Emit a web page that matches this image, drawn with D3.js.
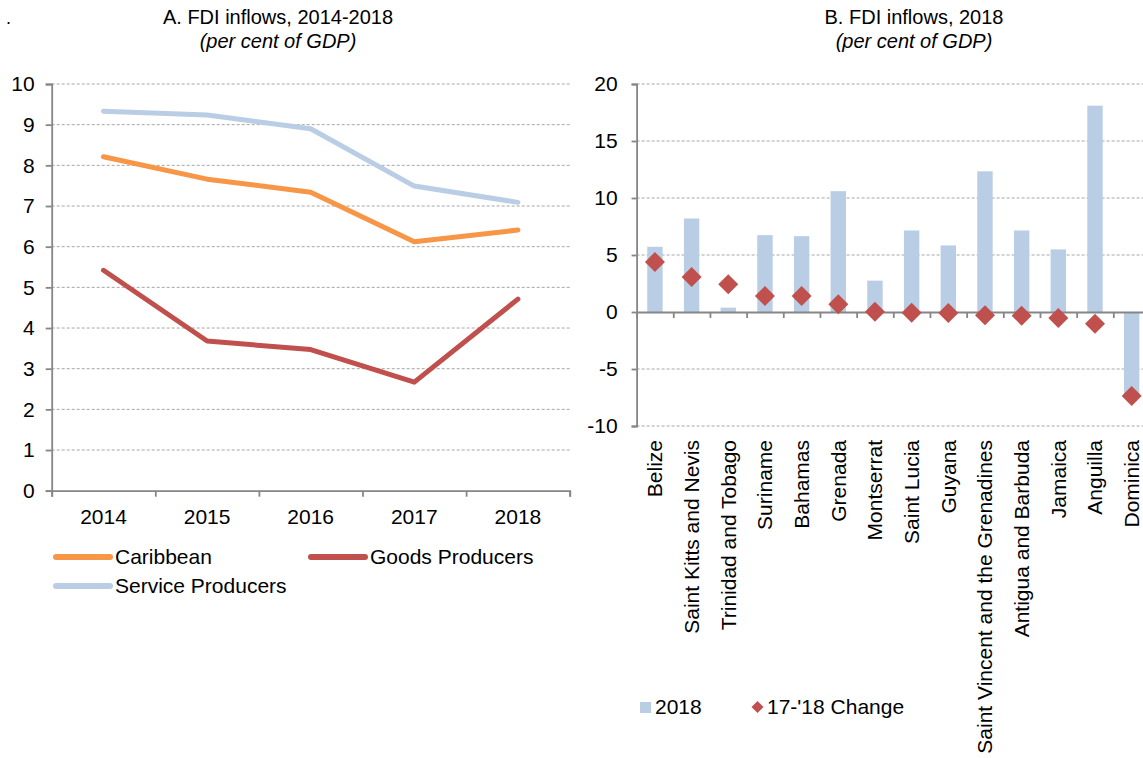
<!DOCTYPE html>
<meta charset="utf-8">
<head>
  <style>
    body {
      margin: 0;
      font-family: Arial, "Liberation Sans", sans-serif;
      background: #fff;
    }
    .grid line { stroke: #a6a6a6; stroke-dasharray: 3,2; stroke-width: 1; }
    .axis path, .axis line { stroke: #868686; stroke-width: 1.8; }
    .title { font-size: 20px; fill: #000; text-anchor: middle; }
    .sub { font-style: italic; }
    .lbl { font-size: 21px; fill: #000; }
  </style>
</head>
<body>
  <div class="chart"></div>
  <script src="https://d3js.org/d3.v7.min.js"></script>
  <script>
    // panel A data
    var years = ["2014", "2015", "2016", "2017", "2018"];
    var caribbean = [8.21, 7.66, 7.34, 6.12, 6.41];
    var goods = [5.42, 3.68, 3.47, 2.67, 4.71];
    var services = [9.33, 9.24, 8.90, 7.49, 7.09];
    var aTicks = [0, 1, 2, 3, 4, 5, 6, 7, 8, 9, 10];

    // panel B data
    var countries = ["Belize", "Saint Kitts and Nevis", "Trinidad and Tobago", "Suriname", "Bahamas",
      "Grenada", "Montserrat", "Saint Lucia", "Guyana", "Saint Vincent and the Grenadines",
      "Antigua and Barbuda", "Jamaica", "Anguilla", "Dominica"];
    var fdi2018 = [5.72, 8.2, 0.38, 6.74, 6.65, 10.6, 2.75, 7.15, 5.84, 12.34, 7.15, 5.49, 18.1, -7.3];
    var change1718 = [4.39, 3.07, 2.43, 1.40, 1.40, 0.67, 0.03, -0.06, -0.09, -0.29, -0.32, -0.53, -1.02, -7.37];
    var bTicks = [-10, -5, 0, 5, 10, 15, 20];

    var colors = { caribbean: "#F79646", goods: "#C0504D", services: "#B9CDE5" };

    var svg = d3.select(".chart").append("svg")
        .attr("width", 1143)
        .attr("height", 758);

    svg.append("text").attr("class", "lbl").attr("x", 6).attr("y", 24).style("font-size", "18px").text(".");

    // ---------- Panel A ----------
    var gA = svg.append("g");
    var xA = d3.scaleBand().domain(years).range([51.7, 569.7]);
    var yA = d3.scaleLinear().domain([0, 10]).range([490.7, 84]);

    gA.append("text").attr("class", "title").attr("x", 278).attr("y", 24).text("A. FDI inflows, 2014-2018");
    gA.append("text").attr("class", "title sub").attr("x", 278).attr("y", 48).text("(per cent of GDP)");

    gA.append("g").attr("class", "grid")
      .selectAll("line")
      .data(aTicks.filter(function(d) { return d > 0; }))
      .enter().append("line")
        .attr("x1", xA.range()[0]).attr("x2", xA.range()[1])
        .attr("y1", function(d) { return yA(d); })
        .attr("y2", function(d) { return yA(d); });

    var yAxisA = gA.append("g").attr("class", "axis")
        .attr("transform", "translate(" + xA.range()[0] + ",0)")
        .call(d3.axisLeft(yA).tickValues(aTicks).tickSize(6).tickSizeOuter(6).tickPadding(11));
    yAxisA.selectAll("text").attr("class", "lbl").attr("fill", "#000");

    // x axis with ticks at category boundaries
    var bndA = d3.scaleLinear().domain([0, years.length]).range(xA.range());
    gA.append("g").attr("class", "axis")
        .attr("transform", "translate(0," + yA(0) + ")")
        .call(d3.axisBottom(bndA).ticks(years.length).tickFormat("").tickSize(6).tickSizeOuter(6));
    gA.append("g")
        .selectAll("text")
        .data(years)
        .enter().append("text")
          .attr("class", "lbl")
          .attr("text-anchor", "middle")
          .attr("x", function(d) { return xA(d) + xA.bandwidth() / 2; })
          .attr("y", 524)
          .text(function(d) { return d; });

    var line = d3.line()
        .x(function(d, i) { return xA(years[i]) + xA.bandwidth() / 2; })
        .y(function(d) { return yA(d); });

    var seriesA = [
      { name: "Service Producers", key: "services", values: services },
      { name: "Caribbean", key: "caribbean", values: caribbean },
      { name: "Goods Producers", key: "goods", values: goods }
    ];
    gA.selectAll(".series")
      .data(seriesA)
      .enter().append("path")
        .attr("fill", "none")
        .attr("stroke", function(d) { return colors[d.key]; })
        .attr("stroke-width", 5)
        .attr("stroke-linejoin", "round")
        .attr("stroke-linecap", "round")
        .attr("d", function(d) { return line(d.values); });

    // legend A
    var legA = [
      { name: "Caribbean", key: "caribbean", x: 56, y: 557 },
      { name: "Goods Producers", key: "goods", x: 311, y: 557 },
      { name: "Service Producers", key: "services", x: 56, y: 586 }
    ];
    var lg = gA.selectAll(".leg").data(legA).enter().append("g");
    lg.append("line")
      .attr("x1", function(d) { return d.x; }).attr("x2", function(d) { return d.x + 54; })
      .attr("y1", function(d) { return d.y; }).attr("y2", function(d) { return d.y; })
      .attr("stroke", function(d) { return colors[d.key]; })
      .attr("stroke-width", 6)
      .attr("stroke-linecap", "round");
    lg.append("text").attr("class", "lbl")
      .attr("x", function(d) { return d.x + 59; })
      .attr("y", function(d) { return d.y + 7; })
      .text(function(d) { return d.name; });

    // ---------- Panel B ----------
    var gB = svg.append("g");
    var xB = d3.scaleBand().domain(countries).range([636.6, 1150]);
    var yB = d3.scaleLinear().domain([-10, 20]).range([426, 84]);

    gB.append("text").attr("class", "title").attr("x", 914).attr("y", 24).text("B. FDI inflows, 2018");
    gB.append("text").attr("class", "title sub").attr("x", 914).attr("y", 48).text("(per cent of GDP)");

    gB.append("g").attr("class", "grid")
      .selectAll("line")
      .data(bTicks.filter(function(d) { return d !== 0; }))
      .enter().append("line")
        .attr("x1", xB.range()[0]).attr("x2", 1143)
        .attr("y1", function(d) { return yB(d); })
        .attr("y2", function(d) { return yB(d); });

    var bw = xB.bandwidth() * 0.42;
    gB.append("g")
      .selectAll("rect")
      .data(countries)
      .enter().append("rect")
        .attr("x", function(d) { return xB(d) + (xB.bandwidth() - bw) / 2; })
        .attr("width", bw)
        .attr("y", function(d, i) { return yB(Math.max(0, fdi2018[i])); })
        .attr("height", function(d, i) { return Math.abs(yB(fdi2018[i]) - yB(0)); })
        .attr("fill", colors.services);

    var yAxisB = gB.append("g").attr("class", "axis")
        .attr("transform", "translate(" + xB.range()[0] + ",0)")
        .call(d3.axisLeft(yB).tickValues(bTicks).tickSize(5).tickSizeOuter(5).tickPadding(14)
          .tickFormat(function(d) { return String(d); }));
    yAxisB.selectAll("text").attr("class", "lbl").attr("fill", "#000");

    var bndB = d3.scaleLinear().domain([0, countries.length]).range(xB.range());
    gB.append("g").attr("class", "axis")
        .attr("transform", "translate(0," + yB(0) + ")")
        .call(d3.axisBottom(bndB).ticks(countries.length).tickFormat("").tickSize(6).tickSizeOuter(0));

    var diamond = function(cx, cy, r) {
      return "M" + cx + "," + (cy - r) + "L" + (cx + r) + "," + cy + "L" + cx + "," + (cy + r) + "L" + (cx - r) + "," + cy + "Z";
    };
    gB.append("g")
      .selectAll("path")
      .data(countries)
      .enter().append("path")
        .attr("fill", colors.goods)
        .attr("d", function(d, i) { return diamond(xB(d) + xB.bandwidth() / 2, yB(change1718[i]), 10); });

    gB.append("g")
      .selectAll("text")
      .data(countries)
      .enter().append("text")
        .attr("class", "lbl")
        .attr("text-anchor", "end")
        .attr("transform", function(d) { return "translate(" + (xB(d) + xB.bandwidth() / 2) + ",440) rotate(-90)"; })
        .attr("dy", "0.35em")
        .text(function(d) { return d; });

    // legend B
    gB.append("rect").attr("x", 640).attr("y", 702).attr("width", 11).attr("height", 11).attr("fill", colors.services);
    gB.append("text").attr("class", "lbl").attr("x", 655).attr("y", 714).text("2018");
    gB.append("path").attr("fill", colors.goods).attr("d", diamond(757.5, 707, 6));
    gB.append("text").attr("class", "lbl").attr("x", 767).attr("y", 714).text("17-'18 Change");
  </script>
</body>
